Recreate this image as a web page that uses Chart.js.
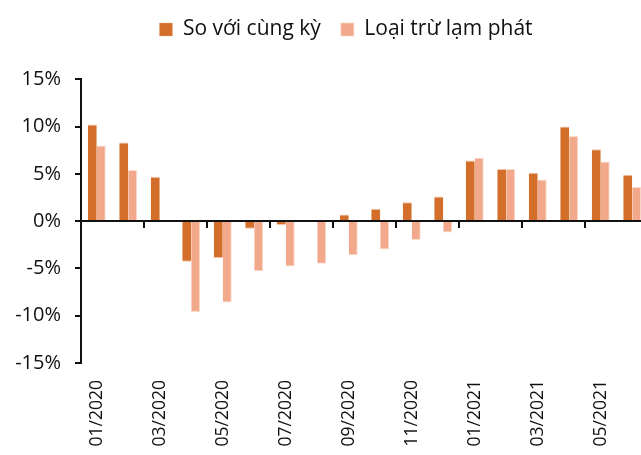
<!DOCTYPE html>
<html>
<head>
<meta charset="utf-8">
<script src="https://cdn.jsdelivr.net/npm/chart.js@4.4.0/dist/chart.umd.min.js"></script>
<style>
  html, body { margin: 0; padding: 0; background: #fff; overflow: hidden; }
  #wrap { position: absolute; left: 0; top: 0; width: 648px; height: 455px; }
</style>
</head>
<body>
<div id="wrap"><canvas id="chart"></canvas></div>
<script>
  // thang 01/2020 - 06/2021
  const months = [
    "01/2020", "02/2020", "03/2020", "04/2020", "05/2020", "06/2020",
    "07/2020", "08/2020", "09/2020", "10/2020", "11/2020", "12/2020",
    "01/2021", "02/2021", "03/2021", "04/2021", "05/2021", "06/2021",
  ];
  const soVoiCungKy = [10.2, 8.3, 4.7, -4.3, -3.9, -0.8, -0.4, null, 0.7, 1.3, 2.0, 2.6, 6.4, 5.5, 5.1, 10.0, 7.6, 4.9];
  const loaiTruLamPhat = [8.0, 5.4, null, -9.6, -8.6, -5.3, -4.8, -4.5, -3.6, -3.0, -2.0, -1.2, 6.7, 5.5, 4.4, 9.0, 6.3, 3.6];
  const yTicks = [-15, -10, -5, 0, 5, 10, 15];

  const darkColor = "#D46F2B";
  const lightColor = "#F2A98B";
  const fontFamily = "'Open Sans', sans-serif";
  const yFontSize = 20;

  // do rong nhan truc tung lon nhat (nhan ve kieu mirror de khong bi cat)
  const measureCtx = document.createElement("canvas").getContext("2d");
  measureCtx.font = `${yFontSize}px ${fontFamily}`;
  const widestY = Math.max(...yTicks.map((v) => measureCtx.measureText(v + "%").width));

  const ctx = document.getElementById("chart").getContext("2d");

  new Chart(ctx, {
    type: "bar",
    data: {
      labels: months,
      datasets: [
        {
          label: "So với cùng kỳ",
          data: soVoiCungKy,
          backgroundColor: darkColor,
          borderColor: "rgba(236, 170, 130, 0.7)",
          borderWidth: { top: 1, left: 0, right: 0, bottom: 1 },
          xAxisID: "x",
          yAxisID: "y",
        },
        {
          label: "Loại trừ lạm phát",
          data: loaiTruLamPhat,
          backgroundColor: lightColor,
          borderColor: "rgba(250, 215, 198, 0.9)",
          borderWidth: { top: 1, left: 0, right: 1, bottom: 1 },
          xAxisID: "x",
          yAxisID: "y",
        },
      ],
    },
    options: {
      responsive: true,
      maintainAspectRatio: false,
      animation: false,
      categoryPercentage: 0.571,
      barPercentage: 1.0,
      layout: { padding: { top: -1, bottom: 0, left: 44, right: 0 } },
      plugins: {
        tooltip: { enabled: false },
        legend: {
          position: "top",
          labels: {
            boxWidth: 13,
            boxHeight: 13,
            padding: 20,
            color: "#111",
            font: { family: fontFamily, size: 21 },
          },
        },
        // khoang trong giua chu thich va bieu do
        subtitle: {
          display: true,
          text: "",
          weight: 500,
          font: { size: 1 },
          padding: { top: 0, bottom: 28 },
        },
      },
      scales: {
        x: {
          position: "bottom",
          border: { display: false },
          grid: { display: false, drawTicks: false },
          afterFit: (scale) => {
            scale.height = 92;
            scale.paddingLeft = 0;
            scale.paddingRight = 0;
          },
          ticks: {
            autoSkip: false,
            maxRotation: 90,
            minRotation: 90,
            padding: 17,
            color: "#111",
            font: { family: fontFamily, size: 17.5 },
            callback: (value, index) => (index % 2 === 0 ? months[index] : ""),
          },
        },
        // duong 0% voi vach chia
        x0: {
          type: "category",
          labels: months,
          position: { y: 0 },
          offset: true,
          afterFit: (scale) => {
            scale.paddingLeft = 0;
            scale.paddingRight = 0;
          },
          border: { display: true, color: "#111", width: 2 },
          grid: {
            drawOnChartArea: false,
            drawTicks: true,
            tickLength: 6,
            lineWidth: 2,
            color: (c) => (c.index % 2 === 0 ? "#111" : "rgba(0,0,0,0)"),
          },
          ticks: { display: false },
        },
        y: {
          min: -15,
          max: 15,
          afterFit: (scale) => {
            scale.width = 37;
          },
          afterBuildTicks: (scale) => {
            scale.ticks = yTicks.map((v) => ({ value: v }));
          },
          border: { display: true, color: "#111", width: 2 },
          grid: {
            drawOnChartArea: false,
            tickLength: 6,
            lineWidth: 2,
            color: "#111",
          },
          ticks: {
            mirror: true,
            crossAlign: "far",
            padding: -(20 + widestY),
            color: "#111",
            font: { family: fontFamily, size: yFontSize },
            callback: (v) => v + "%",
          },
        },
      },
    },
  });
</script>
</body>
</html>
